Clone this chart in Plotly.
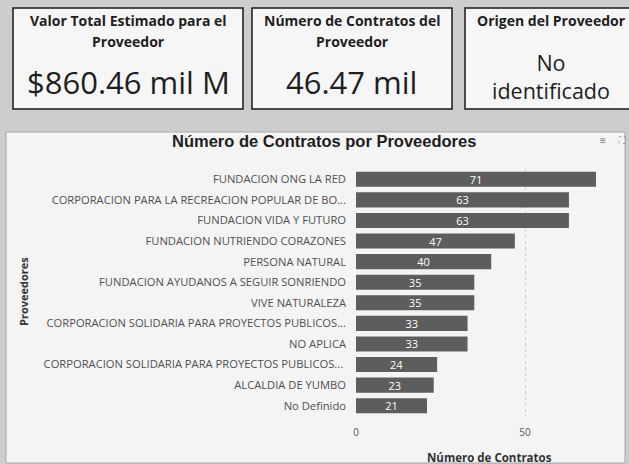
import plotly.graph_objects as go

proveedores = [
    "FUNDACION ONG LA RED",
    "CORPORACION PARA LA RECREACION POPULAR DE BO...",
    "FUNDACION VIDA Y FUTURO",
    "FUNDACION NUTRIENDO CORAZONES",
    "PERSONA NATURAL",
    "FUNDACION AYUDANOS A SEGUIR SONRIENDO",
    "VIVE NATURALEZA",
    "CORPORACION SOLIDARIA PARA PROYECTOS PUBLICOS...",
    "NO APLICA",
    "CORPORACION SOLIDARIA PARA PROYECTOS PUBLICOS... ",
    "ALCALDIA DE YUMBO",
    "No Definido",
]
contratos = [71, 63, 63, 47, 40, 35, 35, 33, 33, 24, 23, 21]

card_title_lines = [["Valor Total Estimado para el", "Proveedor"],
                    ["Número de Contratos del", "Proveedor"],
                    ["Origen del Proveedor"]]
card_values = ["$860.46 mil M", "46.47 mil", "No<br>identificado"]

W, H = 629, 464
ML, MR, MT, MB = 356, 4, 169, 48
PW, PH = W - ML - MR, H - MT - MB

def px(x):
    return (x - ML) / PW

def py(y):
    return (H - MB - y) / PH

FONT = "Open Sans, Noto Sans, sans-serif"

fig = go.Figure(go.Bar(
    x=contratos, y=proveedores, orientation="h",
    marker=dict(color="#5d5d5d", line=dict(width=0)),
    width=0.73,
    text=contratos, textposition="inside", insidetextanchor="middle", textangle=0,
    textfont=dict(color="white", size=11, family=FONT),
    cliponaxis=False,
))

shapes = []
# chart panel
shapes.append(dict(type="rect", xref="paper", yref="paper", x0=px(6), x1=px(625), y0=py(132), y1=py(463),
                   fillcolor="#f4f4f4", line=dict(color="#a8a8a8", width=1), layer="below"))
# cards
cards = [(13, 243), (252, 452), (465, 640)]
for (a, b) in cards:
    shapes.append(dict(type="rect", xref="paper", yref="paper", x0=px(a), x1=px(b), y0=py(8), y1=py(109),
                       fillcolor="#f6f6f6", line=dict(color="#1a1a1a", width=1.5), layer="below"))

ann = []
centers = [128, 352, 551]
for i, c in enumerate(centers):
    for j, line in enumerate(card_title_lines[i]):
        ann.append(dict(x=px(c), y=py(20 + 22 * j), xref="paper", yref="paper", text="<b>" + line + "</b>",
                        showarrow=False, font=dict(size=14, color="#1e1e1e", family=FONT),
                        xanchor="center", yanchor="middle"))
ann.append(dict(x=px(128), y=py(82), xref="paper", yref="paper", text=card_values[0], showarrow=False,
                font=dict(size=31, color="#1e1e1e", family=FONT), xanchor="center", yanchor="middle"))
ann.append(dict(x=px(351), y=py(82), xref="paper", yref="paper", text=card_values[1], showarrow=False,
                font=dict(size=31, color="#1e1e1e", family=FONT), xanchor="center", yanchor="middle"))
ann.append(dict(x=px(551), y=py(76), xref="paper", yref="paper", text=card_values[2], showarrow=False,
                font=dict(size=21.5, color="#1e1e1e", family=FONT), xanchor="center", yanchor="middle"))
# chart title
ann.append(dict(x=px(324), y=py(141), xref="paper", yref="paper", text="<b>Número de Contratos por Proveedores</b>",
                showarrow=False, font=dict(size=16.5, color="#1e1e1e", family="Liberation Sans, Arial, sans-serif"),
                xanchor="center", yanchor="middle"))
# y axis title
ann.append(dict(x=px(23), y=py(292), xref="paper", yref="paper", text="<b>Proveedores</b>", textangle=-90,
                showarrow=False, font=dict(size=11, color="#333", family=FONT), xanchor="center", yanchor="middle"))
# x axis title
ann.append(dict(x=px(489), y=py(457), xref="paper", yref="paper", text="<b>Número de Contratos</b>",
                showarrow=False, font=dict(size=11.5, color="#333", family=FONT), xanchor="center", yanchor="middle"))
# icons
ann.append(dict(x=px(603), y=py(140), xref="paper", yref="paper", text="≡",
                showarrow=False, font=dict(size=10, color="#777", family=FONT), xanchor="center", yanchor="middle"))
ann.append(dict(x=px(622), y=py(140), xref="paper", yref="paper", text="⛶",
                showarrow=False, font=dict(size=9, color="#888", family="DejaVu Sans"), xanchor="center", yanchor="middle"))

fig.update_layout(
    width=W, height=H,
    margin=dict(l=ML, r=MR, t=MT, b=MB, pad=0),
    paper_bgcolor="#cdcdcd",
    plot_bgcolor="rgba(0,0,0,0)",
    showlegend=False,
    shapes=shapes,
    annotations=ann,
    xaxis=dict(range=[0, PW / 3.38], tickvals=[0, 50], showgrid=True, gridcolor="#d0d0d0", griddash="dot",
               zeroline=False, showline=False, ticks="", ticklabelstandoff=9,
               tickfont=dict(size=10, color="#555", family=FONT)),
    yaxis=dict(autorange="reversed", showgrid=False, zeroline=False, showline=False, ticks="",
               ticklabelstandoff=9, tickfont=dict(size=11.2, color="#505050", family=FONT)),
    uniformtext=dict(minsize=8, mode="show"),
)

fig.write_html("out.html", config={"displayModeBar": False},
               post_script="document.body.style.margin='0px';document.body.style.background='#cdcdcd';")
